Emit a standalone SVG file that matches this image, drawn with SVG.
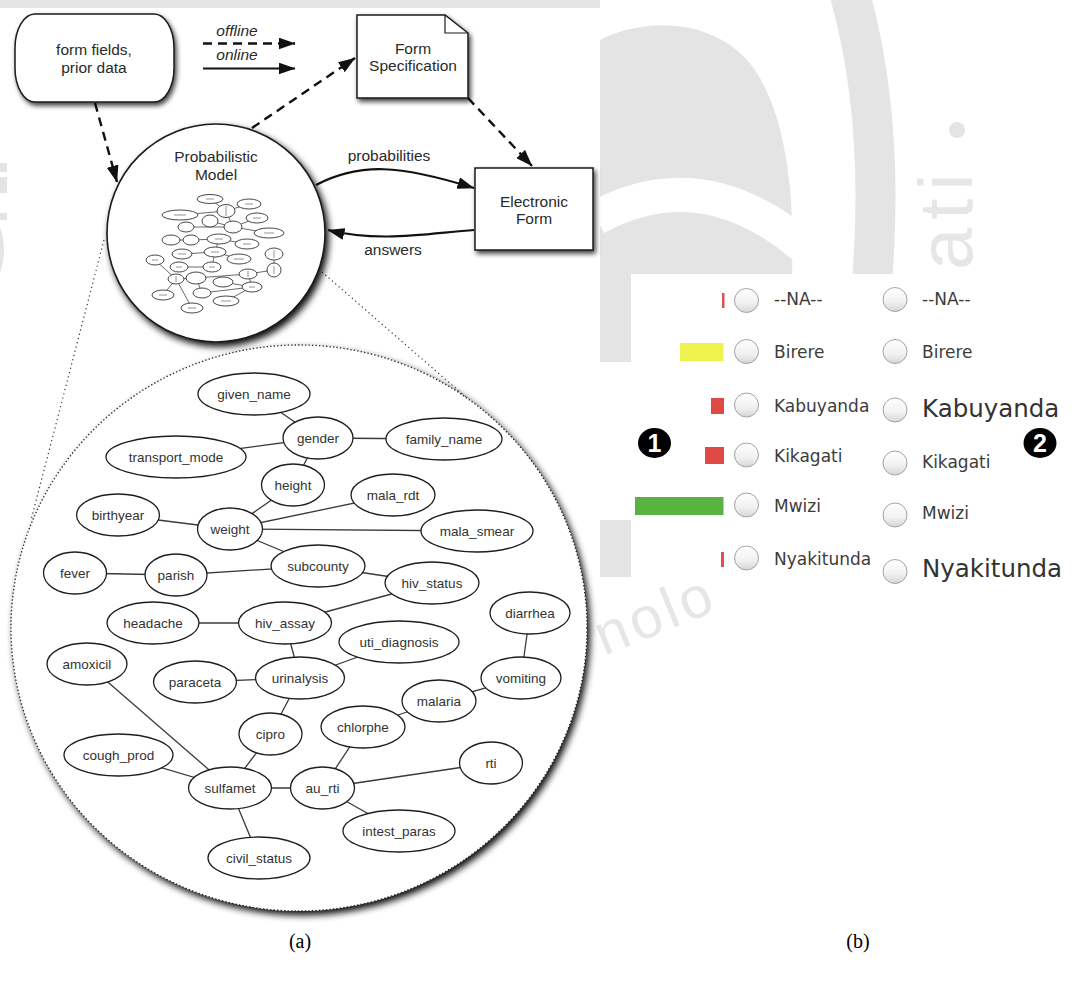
<svg xmlns="http://www.w3.org/2000/svg" width="1079" height="983" viewBox="0 0 1079 983">
<defs>
  <filter id="shadow" x="-20%" y="-20%" width="150%" height="150%">
    <feGaussianBlur in="SourceAlpha" stdDeviation="2.6"/>
    <feOffset dx="2" dy="3"/>
    <feComponentTransfer><feFuncA type="linear" slope="0.75"/></feComponentTransfer>
    <feMerge><feMergeNode/><feMergeNode in="SourceGraphic"/></feMerge>
  </filter>
  <filter id="shadowRound" x="-20%" y="-20%" width="150%" height="150%">
    <feGaussianBlur in="SourceAlpha" stdDeviation="3.6"/>
    <feOffset dx="3" dy="4"/>
    <feComponentTransfer><feFuncA type="linear" slope="0.95"/></feComponentTransfer>
    <feMerge><feMergeNode/><feMergeNode in="SourceGraphic"/></feMerge>
  </filter>
  <marker id="arrow" viewBox="0 0 17 12" refX="16.5" refY="6" markerWidth="17" markerHeight="12" markerUnits="userSpaceOnUse" orient="auto">
    <path d="M0,0 L17,6 L0,12 z" fill="#111"/>
  </marker>
  <linearGradient id="radioFill" x1="0" y1="0" x2="0" y2="1">
    <stop offset="0" stop-color="#ffffff"/>
    <stop offset="0.6" stop-color="#f1f1f1"/>
    <stop offset="1" stop-color="#d6d6d6"/>
  </linearGradient>
</defs>
<style>
  .wm{fill:#e4e4e4}
  .wmtext{fill:#e6e6e6;font-family:"Liberation Sans",Arial,sans-serif}
  .lbl{font-family:"Liberation Sans",Arial,sans-serif;font-size:15.5px;fill:#2a2a2a;text-anchor:middle}
  .it{font-style:italic}
  .box{fill:#fff;stroke:#1a1a1a;stroke-width:1.5}
  .dash{fill:none;stroke:#111;stroke-width:2.4;stroke-dasharray:9 6}
  .solid{fill:none;stroke:#111;stroke-width:2.2}
  .zoomline{fill:none;stroke:#333;stroke-width:1.2;stroke-dasharray:1.2 3.2}
  .node ellipse{fill:#fff;stroke:#1e1e1e;stroke-width:1.3}
  .node text{font-family:"Liberation Sans",Arial,sans-serif;font-size:13.5px;fill:#333;text-anchor:middle}
  .edges line{stroke:#3a3a3a;stroke-width:1.3}
  .mini ellipse{fill:#fff;stroke:#333;stroke-width:0.9}
  .mini line{stroke:#444;stroke-width:0.8}
  .mini .mk{stroke:#888;stroke-width:0.9}
  .opt{font-family:"DejaVu Sans",Verdana,sans-serif;fill:#3c3c3c;font-size:17px}
  .big{font-size:24.5px;fill:#333}
  .radio{fill:url(#radioFill);stroke:#a3a3a3;stroke-width:1}
  .cap{font-family:"Liberation Serif","Times New Roman",serif;font-size:20px;fill:#000;text-anchor:middle}
</style>

<!-- background logo watermark -->
<g id="watermark">
  <rect class="wm" x="0" y="0" width="600" height="8"/>
  <rect class="wm" x="0" y="163" width="7" height="9"/>
  <rect class="wm" x="0" y="177" width="7" height="16"/>
  <rect class="wm" x="0" y="213" width="7" height="7"/>
  <path class="wm" d="M0,227 Q8,250 0,273 Z"/>
  <path class="wm" d="M600,40 C650,15 720,20 755,70 C785,115 795,190 792,274 L600,274 Z"/>
  <path d="M596,218 Q720,150 840,282" fill="none" stroke="#fff" stroke-width="34"/>
  <path d="M850,-5 Q885,120 872,282" fill="none" stroke="#e4e4e4" stroke-width="40"/>
  <rect class="wm" x="600" y="274" width="31" height="88"/>
  <rect class="wm" x="600" y="520" width="31" height="57"/>
  <circle class="wm" cx="957" cy="130" r="8"/>
  <text class="wmtext" transform="translate(972,270) rotate(-90)" font-size="76" letter-spacing="8">ati</text>
</g>

<!-- panel backgrounds -->
<rect x="8" y="8" width="592" height="975" fill="#fff"/>
<rect x="0" y="300" width="8" height="683" fill="#fff"/>
<rect x="631" y="274" width="448" height="303" fill="#fff"/>
<rect x="600" y="577" width="479" height="406" fill="#fff"/>
<text class="wmtext" transform="translate(604,656) rotate(-22)" font-size="58" letter-spacing="4">nolo</text>

<!-- zoom guide lines from the model to the enlarged network -->
<g id="zoom-guides">
  <path class="zoomline" d="M104,240 L31,520"/>
  <path class="zoomline" d="M322,272 L468,399"/>
</g>

<!-- enlarged network -->
<g id="network">
  <ellipse cx="299" cy="628" rx="288" ry="283" fill="#fff" stroke="#222" stroke-width="1.3" stroke-dasharray="1.3 2.2" filter="url(#shadowRound)"/>
  <g class="edges">
    <line x1="254" y1="394" x2="318" y2="438"/>
    <line x1="318" y1="438" x2="444" y2="439"/>
    <line x1="318" y1="438" x2="176" y2="457"/>
    <line x1="318" y1="438" x2="293" y2="485"/>
    <line x1="293" y1="485" x2="230" y2="529"/>
    <line x1="230" y1="529" x2="118" y2="515"/>
    <line x1="230" y1="529" x2="393" y2="495"/>
    <line x1="230" y1="529" x2="477" y2="531"/>
    <line x1="230" y1="529" x2="318" y2="566"/>
    <line x1="75" y1="573" x2="176" y2="575"/>
    <line x1="176" y1="575" x2="318" y2="566"/>
    <line x1="318" y1="566" x2="432" y2="583"/>
    <line x1="432" y1="583" x2="285" y2="623"/>
    <line x1="153" y1="623" x2="285" y2="623"/>
    <line x1="285" y1="623" x2="300" y2="678"/>
    <line x1="300" y1="678" x2="399" y2="642"/>
    <line x1="300" y1="678" x2="195" y2="682"/>
    <line x1="300" y1="678" x2="270.5" y2="734"/>
    <line x1="530" y1="613" x2="521" y2="678"/>
    <line x1="521" y1="678" x2="439" y2="701"/>
    <line x1="439" y1="701" x2="363" y2="727"/>
    <line x1="363" y1="727" x2="322.5" y2="788"/>
    <line x1="87" y1="664" x2="230" y2="788"/>
    <line x1="118.5" y1="755" x2="230" y2="788"/>
    <line x1="270.5" y1="734" x2="230" y2="788"/>
    <line x1="230" y1="788" x2="322.5" y2="788"/>
    <line x1="230" y1="788" x2="259" y2="858"/>
    <line x1="322.5" y1="788" x2="491" y2="763"/>
    <line x1="322.5" y1="788" x2="399" y2="831"/>
  </g>
  <g class="node" id="n-given_name"><ellipse cx="254" cy="394" rx="56" ry="21"/><text x="254" y="399">given_name</text></g>
  <g class="node" id="n-gender"><ellipse cx="318" cy="438" rx="35" ry="21"/><text x="318" y="443">gender</text></g>
  <g class="node" id="n-family_name"><ellipse cx="444" cy="439" rx="58" ry="21"/><text x="444" y="444">family_name</text></g>
  <g class="node" id="n-transport_mode"><ellipse cx="176" cy="457" rx="70" ry="21"/><text x="176" y="462">transport_mode</text></g>
  <g class="node" id="n-height"><ellipse cx="293" cy="485" rx="31.5" ry="21"/><text x="293" y="490">height</text></g>
  <g class="node" id="n-mala_rdt"><ellipse cx="393" cy="495" rx="42" ry="21"/><text x="393" y="500">mala_rdt</text></g>
  <g class="node" id="n-birthyear"><ellipse cx="118" cy="515" rx="41.5" ry="21"/><text x="118" y="520">birthyear</text></g>
  <g class="node" id="n-weight"><ellipse cx="230" cy="529" rx="32.5" ry="21"/><text x="230" y="534">weight</text></g>
  <g class="node" id="n-mala_smear"><ellipse cx="477" cy="531" rx="56" ry="21"/><text x="477" y="536">mala_smear</text></g>
  <g class="node" id="n-fever"><ellipse cx="75" cy="573" rx="31.5" ry="21"/><text x="75" y="578">fever</text></g>
  <g class="node" id="n-parish"><ellipse cx="176" cy="575" rx="31" ry="21"/><text x="176" y="580">parish</text></g>
  <g class="node" id="n-subcounty"><ellipse cx="318" cy="566" rx="47" ry="21"/><text x="318" y="571">subcounty</text></g>
  <g class="node" id="n-hiv_status"><ellipse cx="432" cy="583" rx="47" ry="21"/><text x="432" y="588">hiv_status</text></g>
  <g class="node" id="n-diarrhea"><ellipse cx="530" cy="613" rx="40" ry="21"/><text x="530" y="618">diarrhea</text></g>
  <g class="node" id="n-headache"><ellipse cx="153" cy="623" rx="46" ry="21"/><text x="153" y="628">headache</text></g>
  <g class="node" id="n-hiv_assay"><ellipse cx="285" cy="623" rx="46.5" ry="21"/><text x="285" y="628">hiv_assay</text></g>
  <g class="node" id="n-uti_diagnosis"><ellipse cx="399" cy="642" rx="60" ry="21"/><text x="399" y="647">uti_diagnosis</text></g>
  <g class="node" id="n-amoxicil"><ellipse cx="87" cy="664" rx="40" ry="21"/><text x="87" y="669">amoxicil</text></g>
  <g class="node" id="n-paraceta"><ellipse cx="195" cy="682" rx="41.5" ry="21"/><text x="195" y="687">paraceta</text></g>
  <g class="node" id="n-urinalysis"><ellipse cx="300" cy="678" rx="44.5" ry="21"/><text x="300" y="683">urinalysis</text></g>
  <g class="node" id="n-vomiting"><ellipse cx="521" cy="678" rx="40" ry="21"/><text x="521" y="683">vomiting</text></g>
  <g class="node" id="n-malaria"><ellipse cx="439" cy="701" rx="37" ry="21"/><text x="439" y="706">malaria</text></g>
  <g class="node" id="n-chlorphe"><ellipse cx="363" cy="727" rx="42" ry="21"/><text x="363" y="732">chlorphe</text></g>
  <g class="node" id="n-cipro"><ellipse cx="270.5" cy="734" rx="31.5" ry="21"/><text x="270.5" y="739">cipro</text></g>
  <g class="node" id="n-cough_prod"><ellipse cx="118.5" cy="755" rx="54.5" ry="21"/><text x="118.5" y="760">cough_prod</text></g>
  <g class="node" id="n-rti"><ellipse cx="491" cy="763" rx="31.5" ry="21"/><text x="491" y="768">rti</text></g>
  <g class="node" id="n-sulfamet"><ellipse cx="230" cy="788" rx="41.5" ry="21"/><text x="230" y="793">sulfamet</text></g>
  <g class="node" id="n-au_rti"><ellipse cx="322.5" cy="788" rx="32" ry="21"/><text x="322.5" y="793">au_rti</text></g>
  <g class="node" id="n-intest_paras"><ellipse cx="399" cy="831" rx="56" ry="21"/><text x="399" y="836">intest_paras</text></g>
  <g class="node" id="n-civil_status"><ellipse cx="259" cy="858" rx="51" ry="21"/><text x="259" y="863">civil_status</text></g>
</g>

<!-- workflow connectors -->
<g id="connectors">
  <path class="dash" d="M203,43.5 L295,43.5" marker-end="url(#arrow)"/>
  <path class="solid" d="M203,68.5 L295,68.5" marker-end="url(#arrow)"/>
  <path class="dash" d="M95,103 L117,182" marker-end="url(#arrow)"/>
  <path class="dash" d="M252,128 L355,58" marker-end="url(#arrow)"/>
  <path class="dash" d="M468,98 L532,166" marker-end="url(#arrow)"/>
  <path class="solid" d="M316,185 C360,162 400,165 474,188" marker-end="url(#arrow)"/>
  <path class="solid" d="M474,230 C430,233 380,243 328,230" marker-end="url(#arrow)"/>
  <text class="lbl it" x="237" y="36">offline</text>
  <text class="lbl it" x="237" y="60">online</text>
  <text class="lbl" x="389" y="161">probabilities</text>
  <text class="lbl" x="393" y="255">answers</text>
</g>

<g id="form-fields">
  <rect class="box" x="15" y="14" width="159" height="88" rx="20" ry="34" filter="url(#shadow)"/>
  <text class="lbl" x="94" y="55">form fields,</text>
  <text class="lbl" x="94" y="73">prior data</text>
</g>

<g id="form-specification">
  <path class="box" d="M357,15 L445,15 L468,33 L468,98 L357,98 Z" filter="url(#shadow)"/>
  <path d="M445,15 L445,33 L468,33" fill="none" stroke="#1a1a1a" stroke-width="1.2"/>
  <text class="lbl" x="413" y="54">Form</text>
  <text class="lbl" x="413" y="71">Specification</text>
</g>

<g id="electronic-form">
  <rect class="box" x="475" y="168" width="118" height="82" filter="url(#shadow)"/>
  <text class="lbl" x="534" y="207">Electronic</text>
  <text class="lbl" x="534" y="224">Form</text>
</g>

<g id="probabilistic-model">
  <circle cx="216" cy="233" r="109" fill="#fff" stroke="#1a1a1a" stroke-width="1.6" filter="url(#shadowRound)"/>
  <text class="lbl" x="216" y="162">Probabilistic</text>
  <text class="lbl" x="216" y="180">Model</text>
  <g class="mini">
    <line x1="210" y1="199" x2="226" y2="211"/><line x1="180" y1="215" x2="226" y2="211"/>
    <line x1="249" y1="204" x2="226" y2="211"/><line x1="226" y1="211" x2="233" y2="227"/>
    <line x1="210" y1="221" x2="233" y2="227"/><line x1="186" y1="227" x2="233" y2="227"/>
    <line x1="233" y1="227" x2="257" y2="218"/><line x1="233" y1="227" x2="269" y2="233"/>
    <line x1="171" y1="240" x2="191" y2="240"/><line x1="191" y1="240" x2="219" y2="239"/>
    <line x1="219" y1="239" x2="247" y2="244"/><line x1="219" y1="239" x2="215" y2="252"/>
    <line x1="182" y1="254" x2="215" y2="252"/><line x1="215" y1="252" x2="239" y2="259"/>
    <line x1="274" y1="254" x2="274" y2="270"/><line x1="155" y1="260" x2="176" y2="279"/>
    <line x1="179" y1="267" x2="212" y2="267"/><line x1="212" y1="267" x2="215" y2="252"/>
    <line x1="176" y1="279" x2="196" y2="278"/><line x1="196" y1="278" x2="248" y2="274"/>
    <line x1="248" y1="274" x2="274" y2="270"/><line x1="176" y1="279" x2="163" y2="295"/>
    <line x1="176" y1="279" x2="192" y2="308"/><line x1="196" y1="278" x2="202" y2="293"/>
    <line x1="223" y1="282" x2="252" y2="287"/><line x1="202" y1="293" x2="252" y2="287"/>
    <line x1="226" y1="301" x2="252" y2="287"/><line x1="248" y1="274" x2="252" y2="287"/>
    <ellipse cx="210" cy="199" rx="13" ry="4.5"/><ellipse cx="249" cy="204" rx="12" ry="5"/>
    <ellipse cx="180" cy="215" rx="18" ry="5"/><ellipse cx="226" cy="211" rx="9" ry="6.5"/>
    <ellipse cx="257" cy="218" rx="11" ry="5"/><ellipse cx="210" cy="221" rx="8" ry="6"/>
    <ellipse cx="233" cy="227" rx="9" ry="6"/><ellipse cx="186" cy="227" rx="8" ry="5"/>
    <ellipse cx="269" cy="233" rx="15" ry="5"/><ellipse cx="171" cy="240" rx="9" ry="5"/>
    <ellipse cx="191" cy="240" rx="8" ry="5"/><ellipse cx="219" cy="239" rx="12" ry="5"/>
    <ellipse cx="247" cy="244" rx="12" ry="5"/><ellipse cx="182" cy="254" rx="10" ry="5"/>
    <ellipse cx="215" cy="252" rx="11" ry="5"/><ellipse cx="239" cy="259" rx="12" ry="5"/>
    <ellipse cx="274" cy="254" rx="9" ry="6"/><ellipse cx="155" cy="260" rx="9" ry="5"/>
    <ellipse cx="179" cy="267" rx="9" ry="5"/><ellipse cx="212" cy="267" rx="9" ry="5"/>
    <ellipse cx="196" cy="278" rx="10" ry="6"/><ellipse cx="176" cy="279" rx="8" ry="5"/>
    <ellipse cx="223" cy="282" rx="10" ry="5"/><ellipse cx="248" cy="274" rx="9" ry="5"/>
    <ellipse cx="274" cy="270" rx="7" ry="7"/><ellipse cx="252" cy="287" rx="10" ry="5"/>
    <ellipse cx="202" cy="293" rx="9" ry="5"/><ellipse cx="163" cy="295" rx="11" ry="5"/>
    <ellipse cx="226" cy="301" rx="13" ry="5"/><ellipse cx="192" cy="308" rx="11" ry="5"/>
    <line class="mk" x1="206" y1="199" x2="214" y2="199"/><line class="mk" x1="245" y1="204" x2="253" y2="204"/>
    <line class="mk" x1="174" y1="215" x2="186" y2="215"/><line class="mk" x1="226" y1="206" x2="226" y2="216"/>
    <line class="mk" x1="253" y1="218" x2="261" y2="218"/><line class="mk" x1="264" y1="233" x2="274" y2="233"/>
    <line class="mk" x1="215" y1="239" x2="223" y2="239"/><line class="mk" x1="243" y1="244" x2="251" y2="244"/>
    <line class="mk" x1="178" y1="254" x2="186" y2="254"/><line class="mk" x1="211" y1="252" x2="219" y2="252"/>
    <line class="mk" x1="234" y1="259" x2="244" y2="259"/><line class="mk" x1="274" y1="250" x2="274" y2="258"/>
    <line class="mk" x1="152" y1="260" x2="158" y2="260"/><line class="mk" x1="176" y1="267" x2="182" y2="267"/>
    <line class="mk" x1="209" y1="267" x2="215" y2="267"/><line class="mk" x1="176" y1="276" x2="176" y2="282"/>
    <line class="mk" x1="248" y1="271" x2="248" y2="277"/><line class="mk" x1="274" y1="266" x2="274" y2="274"/>
    <line class="mk" x1="249" y1="287" x2="255" y2="287"/><line class="mk" x1="159" y1="295" x2="167" y2="295"/>
    <line class="mk" x1="221" y1="301" x2="231" y2="301"/><line class="mk" x1="188" y1="308" x2="196" y2="308"/>
  </g>
</g>

<!-- answer options with probability bars -->
<g id="options-panel">
  <g id="bars">
    <rect x="722" y="293" width="2.5" height="15" fill="#e0504c"/>
    <rect x="680" y="343" width="43.5" height="18" fill="#eef24e"/>
    <rect x="711" y="398" width="13" height="16" fill="#e04a46"/>
    <rect x="705" y="447" width="19" height="17" fill="#e04a46"/>
    <rect x="635" y="497" width="88.5" height="18" fill="#58b43e"/>
    <rect x="721" y="552" width="3" height="15" fill="#e0504c"/>
  </g>
  <g id="radios-left">
    <circle class="radio" cx="746.5" cy="300.5" r="12"/>
    <circle class="radio" cx="746.5" cy="351.5" r="12"/>
    <circle class="radio" cx="746.5" cy="405" r="12"/>
    <circle class="radio" cx="746.5" cy="455" r="12"/>
    <circle class="radio" cx="746.5" cy="505" r="12"/>
    <circle class="radio" cx="746.5" cy="558" r="12"/>
  </g>
  <g id="labels-left">
    <text class="opt" x="774" y="305">--NA--</text>
    <text class="opt" x="774" y="358">Birere</text>
    <text class="opt" x="774" y="412">Kabuyanda</text>
    <text class="opt" x="774" y="462">Kikagati</text>
    <text class="opt" x="774" y="512">Mwizi</text>
    <text class="opt" x="774" y="565">Nyakitunda</text>
  </g>
  <g id="radios-right">
    <circle class="radio" cx="895" cy="299.5" r="12"/>
    <circle class="radio" cx="895" cy="351.5" r="12"/>
    <circle class="radio" cx="895" cy="410" r="12"/>
    <circle class="radio" cx="895" cy="463" r="12"/>
    <circle class="radio" cx="895" cy="515" r="12"/>
    <circle class="radio" cx="895" cy="571.5" r="12"/>
  </g>
  <g id="labels-right">
    <text class="opt" x="922" y="305">--NA--</text>
    <text class="opt" x="922" y="358">Birere</text>
    <text class="opt big" x="922" y="417">Kabuyanda</text>
    <text class="opt" x="922" y="468">Kikagati</text>
    <text class="opt" x="922" y="519">Mwizi</text>
    <text class="opt big" x="922" y="577">Nyakitunda</text>
  </g>
  <g id="marker-1">
    <ellipse cx="654.5" cy="443" rx="16.5" ry="15" fill="#000"/>
    <text x="654.5" y="452" font-family="Liberation Sans,Arial,sans-serif" font-weight="bold" font-size="25" fill="#fff" text-anchor="middle">1</text>
  </g>
  <g id="marker-2">
    <ellipse cx="1040" cy="443" rx="16.5" ry="15" fill="#000"/>
    <text x="1040" y="452" font-family="Liberation Sans,Arial,sans-serif" font-weight="bold" font-size="25" fill="#fff" text-anchor="middle">2</text>
  </g>
</g>

<g id="captions">
  <text class="cap" x="300" y="948">(a)</text>
  <text class="cap" x="858" y="948">(b)</text>
</g>
</svg>
